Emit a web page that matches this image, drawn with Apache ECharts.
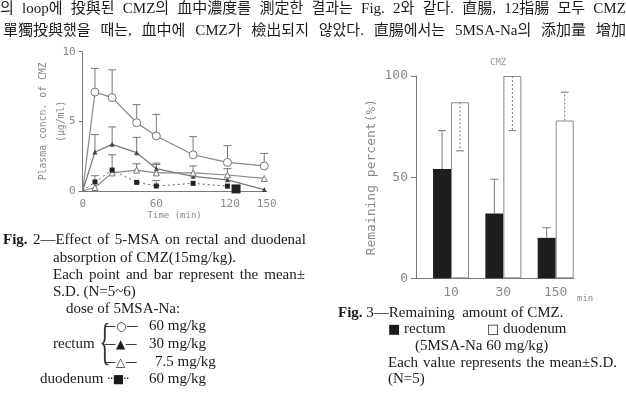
<!DOCTYPE html>
<html>
<head>
<meta charset="utf-8">
<script src="https://cdn.jsdelivr.net/npm/echarts@6/dist/echarts.min.js"></script>
<style>
  html, body { margin: 0; padding: 0; background: #fff; }
  #wrap { position: relative; width: 626px; height: 406px; overflow: hidden; }
  #chart { position: absolute; left: 0; top: 0; width: 626px; height: 406px; }
  .t {
    position: absolute; white-space: nowrap; color: #1a1a1a;
    font-family: "Liberation Serif", "Noto Sans CJK KR", serif;
    font-size: 15px; line-height: 18px; height: 18px;
  }
  .j { display: flex; justify-content: space-between; }
  .t b { font-weight: bold; }
  .sym { font-family: "DejaVu Sans", sans-serif; font-size: 12px; }
</style>
</head>
<body>
<div id="wrap">
  <div id="chart"></div>
  <div id="text"></div>
</div>
<script>
// Fig. 2 — plasma concentration of CMZ (µg/ml) vs time (min)
const times = [0, 10, 24, 44, 60, 90, 118, 148];
const rect60 = [0, 7.1, 6.7, 4.9, 3.95, 2.6, 2.05, 1.8];
const rect60Top = [null, 8.8, 8.7, 6.2, 5.5, 3.9, 3.25, 2.7];
const rect30 = [0, 2.8, 3.35, 2.75, 1.6, 1.05, 0.8, 0.1];
const rect30Top = [null, 4.05, 4.6, 3.85, 2.0, null, null, null];
const rect75 = [0, 0.25, 1.3, 1.5, 1.3, 1.3, 1.15, 0.9];
const rect75Top = [null, null, null, 1.95, 1.9, 1.8, 1.6, null];
const duoTimes = [0, 10, 24, 44, 60, 90, 118, 125];
const duo60 = [0, 0.65, 1.5, 0.62, 0.36, 0.55, 0.35, 0.15];
const duo60Top = [null, 1.1, 2.6, null, 0.75, null, null, null];

// Fig. 3 — remaining percent (%)
const periods = ['10', '30', '150'];
const rectum = [54, 32, 20];
const rectumErr = [73, 49, 25];
const duodenum = [87, 100, 78];
const duodenumErr = [63, 73, 92];

const pair = (xs, ys) => xs.map((x, i) => [x, ys[i]]);
const errData = (xs, ys, tops) => xs.map((x, i) => [x, ys[i], tops[i]]).filter(d => d[2] != null);

const axisGray = '#7a7a7a';
const monoLabel = {color: '#8a8a8a', fontFamily: 'DejaVu Sans Mono', fontSize: 11};

function errorBar(shift, dash) {
  return function (params, api) {
    const p1 = api.coord([api.value(0), api.value(1)]);
    const p2 = api.coord([api.value(0), api.value(2)]);
    const x = p1[0] + shift;
    const style = {stroke: '#777', lineWidth: 1, lineDash: dash || null};
    return {
      type: 'group',
      children: [
        {type: 'line', shape: {x1: x, y1: p1[1], x2: x, y2: p2[1]}, style: style},
        {type: 'line', shape: {x1: x - 4, y1: p2[1], x2: x + 4, y2: p2[1]}, style: {stroke: '#777', lineWidth: 1}}
      ]
    };
  };
}

const chart = echarts.init(document.getElementById('chart'));
const option = {
  animation: false,
  title: {
    text: 'CMZ', left: 485, top: 53,
    textStyle: {color: '#999', fontFamily: 'DejaVu Sans Mono', fontSize: 9, fontWeight: 'normal'}
  },
  grid: [
    {left: 82.7, right: 359.3, top: 51.7, bottom: 215},
    {left: 416, right: 52, top: 76, bottom: 127.7}
  ],
  xAxis: [
    {
      gridIndex: 0, type: 'value', min: 0, max: 150, interval: 60,
      name: 'Time (min)', nameLocation: 'middle', nameGap: 20, nameMoveOverlap: false,
      nameTextStyle: {color: '#8a8a8a', fontFamily: 'DejaVu Sans Mono', fontSize: 9},
      axisLine: {lineStyle: {color: axisGray}},
      axisTick: {show: false},
      splitLine: {show: false},
      axisLabel: Object.assign({margin: 8}, monoLabel)
    },
    {
      gridIndex: 1, type: 'value', min: 0.33, max: 3.35,
      name: 'min', nameLocation: 'end', nameGap: 3,
      nameTextStyle: {color: '#8a8a8a', fontFamily: 'DejaVu Sans Mono', fontSize: 9, verticalAlign: 'top', padding: [16, 0, 0, 0]},
      axisLine: {lineStyle: {color: axisGray}},
      axisTick: {show: false},
      splitLine: {show: false},
      axisLabel: Object.assign({}, monoLabel, {
        fontSize: 13, margin: 8,
        customValues: [1, 2, 3],
        formatter: v => periods[Math.round(v) - 1]
      })
    }
  ],
  yAxis: [
    {
      gridIndex: 0, type: 'value', min: 0, max: 10, interval: 5,
      name: 'Plasma concn. of CMZ\n(μg/ml)', nameLocation: 'middle', nameGap: 12, nameMoveOverlap: false,
      nameTextStyle: {color: '#8a8a8a', fontFamily: 'DejaVu Sans Mono', fontSize: 9.8, lineHeight: 18},
      axisLine: {show: true, lineStyle: {color: axisGray}},
      axisTick: {show: true, length: 4, lineStyle: {color: axisGray}},
      splitLine: {show: false},
      axisLabel: Object.assign({margin: 7}, monoLabel)
    },
    {
      gridIndex: 1, type: 'value', min: 0, max: 100, interval: 50,
      name: 'Remaining percent(%)', nameLocation: 'middle', nameGap: 38, nameMoveOverlap: false,
      nameTextStyle: {color: '#8a8a8a', fontFamily: 'DejaVu Sans Mono', fontSize: 13},
      axisLine: {show: true, lineStyle: {color: axisGray}},
      axisTick: {show: true, length: 5, lineStyle: {color: axisGray}},
      splitLine: {show: false},
      axisLabel: Object.assign({}, monoLabel, {fontSize: 13, margin: 8})
    }
  ],
  series: [
    {
      name: 'rectum 60', type: 'line', xAxisIndex: 0, yAxisIndex: 0,
      data: pair(times, rect60),
      symbol: 'circle', symbolSize: (v, p) => p.dataIndex === 0 ? 0 : 8,
      itemStyle: {color: '#fff', borderColor: '#777', borderWidth: 1},
      lineStyle: {color: '#888', width: 1.2}
    },
    {
      name: 'rectum 30', type: 'line', xAxisIndex: 0, yAxisIndex: 0,
      data: pair(times, rect30),
      symbol: 'triangle', symbolSize: (v, p) => p.dataIndex === 0 ? 0 : 5,
      itemStyle: {color: '#444'},
      lineStyle: {color: '#777', width: 1.2}
    },
    {
      name: 'rectum 7.5', type: 'line', xAxisIndex: 0, yAxisIndex: 0,
      data: pair(times, rect75),
      symbol: 'triangle', symbolSize: (v, p) => p.dataIndex === 0 ? 0 : 6,
      itemStyle: {color: '#fff', borderColor: '#777', borderWidth: 1},
      lineStyle: {color: '#888', width: 1.2}
    },
    {
      name: 'duodenum 60', type: 'line', xAxisIndex: 0, yAxisIndex: 0,
      data: pair(duoTimes, duo60),
      symbol: 'rect', symbolSize: (v, p) => p.dataIndex === 0 ? 0 : (p.dataIndex === duoTimes.length - 1 ? 9 : 5),
      itemStyle: {color: '#222'},
      lineStyle: {color: '#666', width: 1, type: [2, 3]}
    },
    {
      type: 'custom', xAxisIndex: 0, yAxisIndex: 0, renderItem: errorBar(0),
      data: [].concat(
        errData(times, rect60, rect60Top),
        errData(times, rect30, rect30Top),
        errData(times, rect75, rect75Top),
        errData(duoTimes, duo60, duo60Top)
      ),
      z: 3
    },
    {
      name: 'rectum', type: 'bar', xAxisIndex: 1, yAxisIndex: 1,
      data: rectum.map((v, i) => [i + 1, v]),
      barWidth: 18, barGap: '0%',
      itemStyle: {color: '#1e1e1e'}
    },
    {
      name: 'duodenum', type: 'bar', xAxisIndex: 1, yAxisIndex: 1,
      data: duodenum.map((v, i) => [i + 1, v]),
      barWidth: 18, barGap: '0%',
      itemStyle: {color: '#fff', borderColor: '#8a8a8a', borderWidth: 1}
    },
    {
      type: 'custom', xAxisIndex: 1, yAxisIndex: 1, renderItem: errorBar(-9),
      data: rectum.map((v, i) => [i + 1, v, rectumErr[i]]), z: 3
    },
    {
      type: 'custom', xAxisIndex: 1, yAxisIndex: 1, renderItem: errorBar(9, [2, 2]),
      data: duodenum.map((v, i) => [i + 1, v, duodenumErr[i]]), z: 3
    }
  ]
};
chart.setOption(option);

// page text around the figures
const holder = document.getElementById('text');
function line(html, x, y, w) {
  const d = document.createElement('div');
  d.className = 't' + (w ? ' j' : '');
  d.style.left = x + 'px';
  d.style.top = (y - 9) + 'px';
  if (w) {
    d.style.width = w + 'px';
    d.innerHTML = html.split(' ').map(s => '<span>' + s + '</span>').join('');
  } else {
    d.innerHTML = html;
  }
  holder.appendChild(d);
  return d;
}

line('의 loop에 投與된 CMZ의 血中濃度를 測定한 결과는 Fig. 2와 같다. 直腸, 12指腸 모두 CMZ', 0, 8, 626);
line('單獨投與했을 때는, 血中에 CMZ가 檢出되지 않았다. 直腸에서는 5MSA-Na의 添加量 增加', 3, 30, 623);

line('<b>Fig.</b> 2—Effect of 5-MSA on rectal and duodenal', 3, 239, 303);
line('absorption of CMZ(15mg/kg).', 53, 257);
line('Each point and bar represent the mean±', 53, 274, 252);
line('S.D. (N=5~6)', 53, 291);
line('dose of 5MSA-Na:', 66, 308);
line('<span class="sym">—○—</span>', 104, 325);
line('60 mg/kg', 149, 325);
line('<span class="sym">—▲—</span>', 104, 343);
line('30 mg/kg', 149, 343);
line('<span class="sym">—△—</span>', 104, 361);
line('7.5 mg/kg', 155, 361);
line('rectum', 53, 343);
line('duodenum', 40, 378);
line('<span class="sym" style="letter-spacing:-1px">··■··</span>', 107, 378);
line('60 mg/kg', 149, 378);
const brace = line('{', 93, 341);
brace.style.fontSize = '50px';
brace.style.lineHeight = '18px';
brace.style.fontWeight = '100';
brace.style.transform = 'scaleX(0.45)';
brace.style.color = '#333';

line('<b>Fig.</b> 3—Remaining&nbsp; amount of CMZ.', 338, 312);
line('<span class="sym" style="font-size:13px">■</span> rectum', 388, 328);
line('<span class="sym" style="font-size:13px">□</span> duodenum', 487, 328);
line('(5MSA-Na 60 mg/kg)', 415, 345);
line('Each value represents the mean±S.D.', 388, 362, 229);
line('(N=5)', 388, 378);
</script>
</body>
</html>
